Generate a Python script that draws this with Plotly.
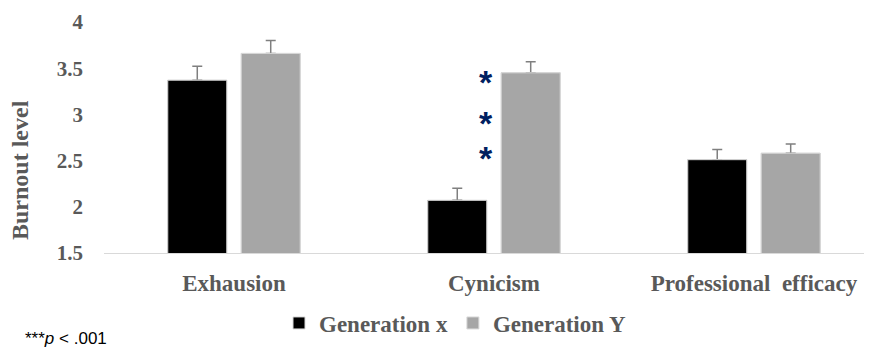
import plotly.graph_objects as go

categories = ["Exhausion", "Cynicism", "Professional  efficacy"]
gen_x = [3.37, 2.07, 2.51]
gen_x_err = [0.15, 0.13, 0.11]
gen_y = [3.66, 3.45, 2.58]
gen_y_err = [0.14, 0.12, 0.10]
zero_err = [0, 0, 0]
star_y = [3.35, 2.91, 2.53]
y_ticks = [1.5, 2, 2.5, 3, 3.5, 4]
y_tick_labels = ["1.5", "2", "2.5", "3", "3.5", "4"]

gray_text = "#595959"
serif = "Liberation Serif, Times New Roman, serif"

W, H = 864, 341
L, R, T, B = 96, 0, 14, 96
PW, PH = W - L - R, H - T - B

fig = go.Figure()
series = [("Generation x", gen_x, gen_x_err, "#000000", "gx"),
          ("Generation Y", gen_y, gen_y_err, "#a6a6a6", "gy")]
# bars with upward error bars
for name, vals, err, col, grp in series:
    fig.add_trace(go.Bar(
        x=categories, y=vals, name="<b>" + name + "</b>", offsetgroup=grp,
        marker=dict(color=col, line=dict(color="#d9d9d9", width=1)),
        error_y=dict(type="data", symmetric=False, array=err, arrayminus=zero_err,
                     color="#7f7f7f", thickness=1.5, width=5),
    ))
# same bars again on top, hiding the lower error-bar cap
for name, vals, err, col, grp in series:
    fig.add_trace(go.Bar(
        x=categories, y=vals, name=name, offsetgroup=grp, showlegend=False,
        marker=dict(color=col, line=dict(color="#d9d9d9", width=1)),
        hoverinfo="skip",
    ))

for yv in star_y:
    fig.add_annotation(x=1, y=yv, xref="x", yref="y", xshift=-8, text="<b>*</b>",
                       showarrow=False, font=dict(family="Liberation Sans, Arial", size=34, color="#002060"),
                       yanchor="middle", xanchor="center")

fig.add_annotation(x=(12 - L) / PW, y=(T + PH - 162) / PH, xref="paper", yref="paper",
                   text="<b>Burnout level</b>",
                   textangle=-90, showarrow=False, xanchor="center", yanchor="middle",
                   font=dict(family=serif, size=24, color=gray_text))
fig.add_annotation(x=(16 - L) / PW, y=(T + PH - H) / PH, xref="paper", yref="paper",
                   text="***<i>p</i> < .001", showarrow=False, xanchor="left", yanchor="bottom",
                   borderpad=0,
                   font=dict(family="Liberation Sans, Arial", size=17, color="#000000"))

fig.update_layout(
    width=W, height=H,
    margin=dict(l=L, r=R, t=T, b=B),
    paper_bgcolor="white", plot_bgcolor="white",
    barmode="group", bargap=0.435, bargroupgap=0.197,
    showlegend=True,
    legend=dict(orientation="h", x=(447 - L) / PW, xanchor="center",
                y=(T + PH - 315) / PH, yanchor="middle",
                font=dict(family=serif, size=23, color=gray_text), itemwidth=30,
                traceorder="normal"),
    xaxis=dict(range=[-0.5, 2.454], showline=True, linecolor="#d9d9d9", linewidth=1,
               tickfont=dict(family=serif, size=23, color=gray_text), ticks="",
               ticklabelstandoff=9,
               tickvals=categories, ticktext=["<b>" + c + "</b>" for c in categories]),
    yaxis=dict(range=[1.5, 4], showgrid=False, zeroline=False, showline=False,
               tickvals=y_ticks, ticktext=["<b>" + t + "</b>" for t in y_tick_labels],
               tickfont=dict(family=serif, size=21, color=gray_text), ticks="",
               ticklabelstandoff=20),
)

fig.write_html("out.html")
